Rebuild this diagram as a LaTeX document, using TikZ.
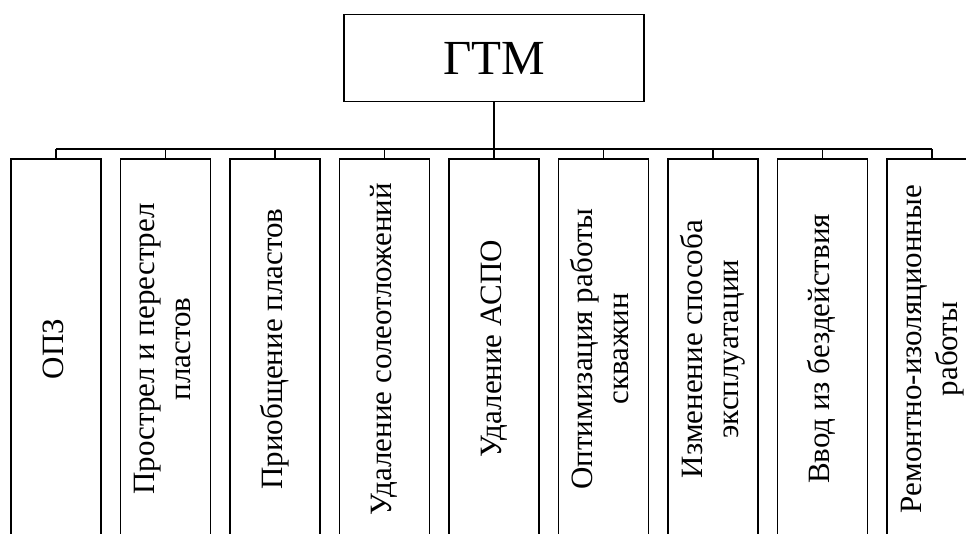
\documentclass[tikz,border=0pt]{standalone}
\usepackage{fontspec}
\setmainfont{Liberation Serif}
\newcommand{\vlab}[1]{\rotatebox{90}{\begin{tabular}{@{}c@{}}#1\end{tabular}}}
\begin{document}
\begin{tikzpicture}[x=1pt,y=-1pt,line width=1.3pt,
  topbox/.style={draw,minimum width=300pt,minimum height=87pt,inner sep=0pt,
    font=\fontsize{49}{56}\selectfont},
  catbox/.style={draw,minimum width=90pt,minimum height=380pt,inner sep=0pt,
    font=\fontsize{31}{36}\selectfont},
  link/.style={line width=1.3pt}]
\useasboundingbox (0,0) rectangle (966,533);
\clip (0,0) rectangle (966,533);
\node[topbox] (gtm) at (494,58.3) {ГТМ};
\coordinate (bus) at (494,149);
\node[catbox] (b1) at (56,349) {\vlab{ОПЗ}};
\node[catbox] (b2) at (165.5,349) {\vlab{Прострел и перестрел\\пластов}};
\node[catbox] (b3) at (275,349) {\vlab{Приобщение пластов}};
\node[catbox] (b4) at (384.5,349) {\vlab{Удаление солеотложений}};
\node[catbox] (b5) at (494,349) {\vlab{Удаление АСПО}};
\node[catbox] (b6) at (603.5,349) {\vlab{Оптимизация работы\\скважин}};
\node[catbox] (b7) at (713,349) {\vlab{Изменение способа\\эксплуатации}};
\node[catbox] (b8) at (822.5,349) {\vlab{Ввод из бездействия}};
\node[catbox] (b9) at (932,349) {\vlab{Ремонтно-изоляционные\\работы}};
\draw[link] (gtm.south) -- (bus);
\draw[link] (b1.north |- bus) -- (b9.north |- bus);
\foreach \i in {1,...,9}{
  \draw[link] (b\i.north |- bus) -- (b\i.north);
}
\end{tikzpicture}
\end{document}
